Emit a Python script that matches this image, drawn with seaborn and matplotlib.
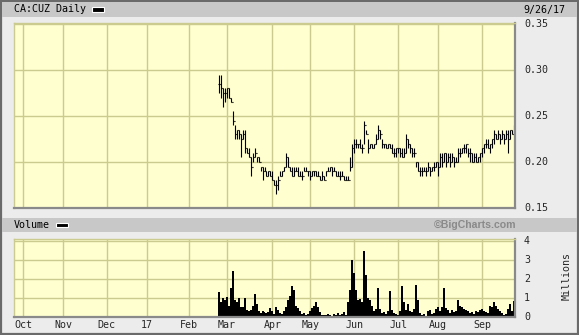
import numpy as np
import pandas as pd
import matplotlib
matplotlib.use("Agg")
import matplotlib.pyplot as plt
from matplotlib.patches import Rectangle
import seaborn as sns

# ---------------- data ----------------
title = "CA:CUZ Daily"
date_label = "9/26/17"
month_labels = ["Oct", "Nov", "Dec", "17", "Feb", "Mar", "Apr", "May", "Jun", "Jul", "Aug", "Sep"]
price_ticks = [0.15, 0.20, 0.25, 0.30, 0.35]
volume_ticks = [0, 1, 2, 3, 4]

# trading calendar (TSX) for the one-year window
holidays = ["2016-10-10", "2016-12-26", "2016-12-27", "2017-01-02", "2017-02-20",
            "2017-04-14", "2017-05-22", "2017-07-03", "2017-08-07", "2017-09-04"]
first_trade = "2017-02-23"

high = [0.295, 0.295, 0.28, 0.28, 0.28, 0.28, 0.27, 0.255, 0.24, 0.235,
        0.235, 0.23, 0.235, 0.235, 0.215, 0.215, 0.205, 0.21, 0.215, 0.205,
        0.205, 0.195, 0.195, 0.195, 0.19, 0.19, 0.19, 0.19, 0.18, 0.18,
        0.185, 0.19, 0.19, 0.195, 0.21, 0.205, 0.195, 0.195, 0.195, 0.195,
        0.195, 0.19, 0.19, 0.195, 0.195, 0.19, 0.19, 0.19, 0.19, 0.19,
        0.19, 0.185, 0.19, 0.185, 0.19, 0.195, 0.195, 0.195, 0.195, 0.19,
        0.19, 0.19, 0.19, 0.185, 0.185, 0.185, 0.205, 0.22, 0.225, 0.225,
        0.22, 0.225, 0.22, 0.245, 0.235, 0.225, 0.22, 0.22, 0.22, 0.23,
        0.24, 0.235, 0.225, 0.22, 0.22, 0.22, 0.22, 0.22, 0.215, 0.215,
        0.215, 0.215, 0.215, 0.215, 0.23, 0.225, 0.22, 0.215, 0.215, 0.20,
        0.20, 0.195, 0.195, 0.195, 0.195, 0.20, 0.195, 0.195, 0.20, 0.20,
        0.20, 0.21, 0.21, 0.21, 0.21, 0.21, 0.21, 0.21, 0.205, 0.205,
        0.215, 0.215, 0.215, 0.22, 0.22, 0.215, 0.215, 0.21, 0.21, 0.21,
        0.205, 0.21, 0.215, 0.22, 0.225, 0.225, 0.22, 0.225, 0.235, 0.23,
        0.235, 0.23, 0.235, 0.23, 0.235, 0.235, 0.235, 0.235, 0.24]
low = [0.275, 0.27, 0.26, 0.265, 0.27, 0.27, 0.265, 0.24, 0.225, 0.225,
       0.225, 0.205, 0.225, 0.21, 0.21, 0.205, 0.185, 0.20, 0.205, 0.20,
       0.20, 0.19, 0.18, 0.19, 0.185, 0.185, 0.185, 0.18, 0.175, 0.165,
       0.17, 0.185, 0.185, 0.19, 0.195, 0.195, 0.19, 0.185, 0.185, 0.19,
       0.185, 0.185, 0.18, 0.19, 0.19, 0.185, 0.18, 0.185, 0.185, 0.185,
       0.185, 0.18, 0.18, 0.18, 0.185, 0.19, 0.19, 0.185, 0.19, 0.185,
       0.185, 0.18, 0.185, 0.18, 0.18, 0.18, 0.19, 0.195, 0.21, 0.215,
       0.215, 0.215, 0.21, 0.22, 0.23, 0.21, 0.215, 0.215, 0.215, 0.22,
       0.225, 0.225, 0.215, 0.215, 0.215, 0.215, 0.215, 0.21, 0.205, 0.205,
       0.21, 0.205, 0.205, 0.205, 0.21, 0.215, 0.21, 0.205, 0.205, 0.195,
       0.19, 0.185, 0.185, 0.19, 0.185, 0.19, 0.185, 0.19, 0.19, 0.195,
       0.185, 0.195, 0.195, 0.20, 0.195, 0.20, 0.195, 0.20, 0.195, 0.20,
       0.20, 0.205, 0.21, 0.21, 0.21, 0.205, 0.20, 0.20, 0.20, 0.20,
       0.20, 0.20, 0.205, 0.21, 0.215, 0.215, 0.21, 0.215, 0.22, 0.225,
       0.225, 0.22, 0.225, 0.22, 0.225, 0.21, 0.225, 0.23, 0.23]
close = [0.285, 0.28, 0.275, 0.275, 0.28, 0.27, 0.265, 0.245, 0.23, 0.235,
         0.23, 0.225, 0.23, 0.215, 0.21, 0.205, 0.195, 0.205, 0.21, 0.205,
         0.20, 0.195, 0.19, 0.19, 0.185, 0.19, 0.185, 0.18, 0.175, 0.175,
         0.18, 0.185, 0.19, 0.195, 0.205, 0.195, 0.19, 0.185, 0.19, 0.19,
         0.185, 0.185, 0.185, 0.19, 0.19, 0.19, 0.185, 0.19, 0.19, 0.185,
         0.185, 0.18, 0.185, 0.18, 0.19, 0.19, 0.195, 0.19, 0.19, 0.185,
         0.185, 0.185, 0.185, 0.18, 0.18, 0.18, 0.195, 0.215, 0.22, 0.22,
         0.22, 0.215, 0.215, 0.24, 0.23, 0.215, 0.22, 0.215, 0.22, 0.225,
         0.235, 0.23, 0.22, 0.22, 0.215, 0.22, 0.215, 0.21, 0.21, 0.215,
         0.215, 0.21, 0.205, 0.21, 0.225, 0.22, 0.215, 0.21, 0.21, 0.20,
         0.19, 0.19, 0.19, 0.19, 0.19, 0.195, 0.19, 0.195, 0.195, 0.20,
         0.195, 0.205, 0.20, 0.21, 0.20, 0.205, 0.20, 0.205, 0.20, 0.20,
         0.21, 0.21, 0.215, 0.215, 0.22, 0.21, 0.21, 0.20, 0.205, 0.20,
         0.205, 0.21, 0.215, 0.22, 0.22, 0.215, 0.22, 0.225, 0.23, 0.225,
         0.23, 0.225, 0.23, 0.225, 0.23, 0.225, 0.235, 0.23, 0.24]
volume = [1.3, 0.8, 1.0, 0.9, 1.05, 0.6, 1.5, 2.4, 0.9, 0.8,
          1.0, 0.5, 0.5, 1.0, 0.35, 0.3, 0.35, 0.6, 1.2, 0.7,
          0.3, 0.2, 0.3, 0.25, 0.2, 0.25, 0.45, 0.3, 0.15, 0.5,
          0.35, 0.2, 0.15, 0.3, 0.5, 0.9, 1.1, 1.65, 1.4, 0.6,
          0.45, 0.3, 0.15, 0.2, 0.1, 0.15, 0.3, 0.45, 0.6, 0.8,
          0.5, 0.25, 0.1, 0.1, 0.1, 0.15, 0.1, 0.05, 0.15, 0.1,
          0.2, 0.1, 0.15, 0.25, 0.1, 0.8, 1.4, 3.0, 2.3, 1.4,
          0.9, 0.95, 0.8, 3.45, 2.2, 1.0, 0.9, 0.6, 0.3, 0.4,
          1.5, 0.4, 0.2, 0.25, 0.15, 0.3, 1.35, 0.35, 0.2, 0.15,
          0.1, 0.3, 1.65, 0.8, 0.35, 0.7, 0.3, 0.25, 0.4, 1.7,
          0.9, 0.2, 0.1, 0.15, 0.05, 0.3, 0.35, 0.15, 0.2, 0.4,
          0.5, 0.3, 0.5, 1.5, 0.45, 0.35, 0.2, 0.35, 0.25, 0.3,
          0.9, 0.6, 0.5, 0.4, 0.35, 0.3, 0.2, 0.25, 0.15, 0.3,
          0.25, 0.35, 0.4, 0.3, 0.25, 0.2, 0.6, 0.5, 0.8, 0.6,
          0.4, 0.3, 0.2, 0.1, 0.15, 0.4, 0.7, 0.3, 0.85]

# ---------------- positions from the calendar ----------------
days = pd.bdate_range("2016-09-27", "2017-09-26")
days = days[~days.isin(pd.to_datetime(holidays))]
n_days = len(days)
start = int(np.searchsorted(days, pd.Timestamp(first_trade)))
idx = np.arange(start, start + len(close))
month_pos = [int(np.argmax((days.year == y) & (days.month == m)))
             for y, m in [(2016, 10), (2016, 11), (2016, 12), (2017, 1), (2017, 2), (2017, 3),
                          (2017, 4), (2017, 5), (2017, 6), (2017, 7), (2017, 8), (2017, 9)]]
openp = np.r_[close[0], close[:-1]]  # open drawn at prior close

# ---------------- figure ----------------
W, H = 579, 335
sns.set_theme(style="white")
plt.rcParams["font.family"] = ["DejaVu Sans Mono", "DejaVu Sans"]
fig = plt.figure(figsize=(W / 100, H / 100), dpi=100, facecolor="#ECECEC")

def fx(x):
    return x / W

def fy(y):
    return 1 - y / H

def band(x0, y0, x1, y1, color, **kw):
    fig.patches.append(Rectangle((fx(x0), fy(y1)), fx(x1) - fx(x0), fy(y0) - fy(y1),
                                 transform=fig.transFigure, facecolor=color, **kw))

# frame & bands
band(0.5, 0.5, 578, 334, "none", edgecolor="#6a6a6a", linewidth=1.6)
band(2, 2, 577, 17, "#C8C8C8", edgecolor="none")
band(2, 218, 577, 232, "#C8C8C8", edgecolor="none")
band(92, 7.5, 104, 12, "black", edgecolor="white", linewidth=0.8)
band(56, 223, 68, 227, "black", edgecolor="white", linewidth=0.8)

FS = 7.2
fig.text(fx(14), fy(9.5), title, fontsize=FS, va="center", ha="left", color="black")
fig.text(fx(523), fy(9.5), date_label, fontsize=FS, va="center", ha="left", color="black")
fig.text(fx(14), fy(225), "Volume", fontsize=FS, va="center", ha="left", color="black")
fig.text(fx(516), fy(225), "\u00a9BigCharts.com", fontsize=7.6, va="center", ha="right",
         color="#8a8a8a", fontweight="bold", family=["Liberation Sans", "DejaVu Sans"])
fig.text(fx(567), fy(276), "Millions", fontsize=FS, va="center", ha="center", rotation=90)

grid_c = "#CBCB8F"
face_c = "#FFFFD0"

def style_axes(ax):
    ax.set_facecolor(face_c)
    ax.set_xlim(-0.5, n_days - 0.5)
    ax.set_xticks(month_pos)
    ax.grid(True, color=grid_c, linewidth=1.0)
    ax.set_axisbelow(True)
    for s in ["top", "left"]:
        ax.spines[s].set_color(grid_c)
        ax.spines[s].set_linewidth(1.0)
    for s in ["bottom", "right"]:
        ax.spines[s].set_color("#8a8a8a")
        ax.spines[s].set_linewidth(1.6)
    ax.tick_params(axis="both", length=0)

# price panel
axp = fig.add_axes([fx(14), fy(208), fx(515) - fx(14), fy(23) - fy(208)])
style_axes(axp)
axp.set_ylim(0.15, 0.351)
axp.set_yticks(price_ticks)
axp.set_yticklabels([])
axp.set_xticklabels([])
lw = 0.8
axp.vlines(idx, low, high, color="black", linewidth=lw)
axp.hlines(openp, idx - 0.5, idx, color="black", linewidth=lw)
axp.hlines(close, idx, idx + 0.5, color="black", linewidth=lw)
for t in price_ticks:
    fig.text(fx(524), fy(208 - (t - 0.15) / 0.05 * 46), f"{t:.2f}", fontsize=FS,
             va="center", ha="left")

# volume panel
axv = fig.add_axes([fx(14), fy(317), fx(515) - fx(14), fy(239) - fy(317)])
vol_df = pd.DataFrame({"day": idx, "volume": volume})
sns.histplot(data=vol_df, x="day", weights="volume", discrete=True, shrink=1.0,
             color="black", edgecolor="none", alpha=1.0, ax=axv, linewidth=0)
style_axes(axv)
axv.set_ylim(0, 4.1)
axv.set_yticks(volume_ticks)
axv.set_yticklabels([])
axv.set_xlabel("")
axv.set_ylabel("")
axv.set_xticklabels([])
for t in volume_ticks:
    fig.text(fx(524), fy(317 - t * 19), f"{t}", fontsize=FS, va="center", ha="left")
for p, lab in zip(month_pos, month_labels):
    xd = axv.transData.transform((p, 0))[0]
    fig.text(xd / fig.bbox.width, fy(325.5), lab, fontsize=FS, va="center", ha="center")

fig.savefig("out.png", dpi=100, facecolor=fig.get_facecolor())
